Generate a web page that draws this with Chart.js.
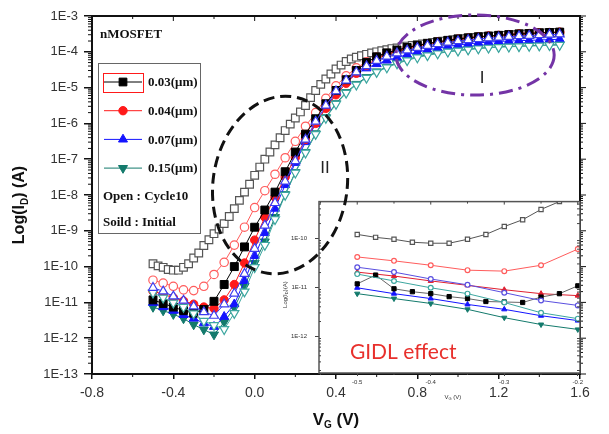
<!DOCTYPE html>
<html>
<head>
<meta charset="utf-8">
<script src="https://cdn.jsdelivr.net/npm/chart.js@4.4.0/dist/chart.umd.min.js"></script>
<style>
html, body { margin:0; padding:0; background:#fff; }
#wrap { position:relative; width:609px; height:434px; }
#wrap canvas { position:absolute; }
</style>
</head>
<body>
<div id="wrap">
  <canvas id="main" width="609" height="434" style="left:0;top:0"></canvas>
  <canvas id="inset" width="330" height="225" style="left:270px;top:190px"></canvas>
  <canvas id="over" width="609" height="434" style="left:0;top:0"></canvas>
</div>
<script>
// gate voltage (V), 0.05 V step
var volts = [-0.5,-0.45,-0.4,-0.35,-0.3,-0.25,-0.2,-0.15,-0.1,-0.05,
  0,0.05,0.1,0.15,0.2,0.25,0.3,0.35,0.4,0.45,
  0.5,0.55,0.6,0.65,0.7,0.75,0.8,0.85,0.9,0.95,
  1,1.05,1.1,1.15,1.2,1.25,1.3,1.35,1.4,1.45,
  1.5];
// 0.025 V step (0.03um cycle10 sweep)
var voltsFine = [-0.5,-0.475,-0.45,-0.425,-0.4,-0.375,-0.35,-0.325,-0.3,-0.275,
  -0.25,-0.225,-0.2,-0.175,-0.15,-0.125,-0.1,-0.075,-0.05,-0.025,
  0,0.025,0.05,0.075,0.1,0.125,0.15,0.175,0.2,0.225,
  0.25,0.275,0.3,0.325,0.35,0.375,0.4,0.425,0.45,0.475,
  0.5,0.525,0.55,0.575,0.6,0.625,0.65,0.675,0.7,0.725,
  0.75,0.775,0.8,0.825,0.85,0.875,0.9,0.925,0.95,0.975,
  1,1.025,1.05,1.075,1.1,1.125,1.15,1.175,1.2,1.225,
  1.25,1.275,1.3,1.325,1.35,1.375,1.4,1.425,1.45,1.475,
  1.5];

// log10(Id) values, solid = initial, open = cycle10
var w003Initial = [-10.93,-11.03,-11.13,-11.23,-11.3,-11.2,-10.97,-10.5,-10.0,-9.45,
  -8.9,-8.42,-7.92,-7.35,-6.8,-6.3,-5.87,-5.45,-5.08,-4.78,
  -4.52,-4.3,-4.14,-4.03,-3.95,-3.88,-3.82,-3.77,-3.72,-3.68,
  -3.64,-3.61,-3.58,-3.56,-3.54,-3.52,-3.5,-3.49,-3.47,-3.46,
  -3.45];
var w003Cycle = [-9.92,-9.98,-10.02,-10.08,-10.1,-10.1,-10.02,-9.92,-9.76,-9.62,
  -9.41,-9.25,-9.08,-8.95,-8.8,-8.6,-8.38,-8.15,-7.92,-7.7,
  -7.45,-7.22,-7.0,-6.8,-6.6,-6.4,-6.2,-6.02,-5.85,-5.68,
  -5.5,-5.28,-5.08,-4.91,-4.76,-4.62,-4.48,-4.37,-4.27,-4.2,
  -4.15,-4.11,-4.07,-4.03,-4.0,-3.97,-3.94,-3.91,-3.89,-3.86,
  -3.84,-3.82,-3.8,-3.78,-3.76,-3.74,-3.72,-3.7,-3.68,-3.66,
  -3.65,-3.63,-3.62,-3.6,-3.59,-3.58,-3.57,-3.56,-3.55,-3.54,
  -3.53,-3.52,-3.51,-3.5,-3.5,-3.49,-3.48,-3.47,-3.47,-3.46,
  -3.46];
var w004Initial = [-10.69,-10.77,-10.87,-10.96,-11.05,-11.13,-11.17,-10.93,-10.5,-9.9,
  -9.26,-8.62,-8.06,-7.5,-6.95,-6.45,-6.0,-5.58,-5.2,-4.88,
  -4.6,-4.38,-4.2,-4.07,-3.98,-3.9,-3.84,-3.78,-3.73,-3.69,
  -3.65,-3.62,-3.59,-3.56,-3.54,-3.52,-3.5,-3.49,-3.47,-3.46,
  -3.45];
var w004Cycle = [-10.38,-10.46,-10.55,-10.65,-10.67,-10.55,-10.22,-9.88,-9.4,-8.9,
  -8.35,-7.88,-7.42,-6.96,-6.5,-6.08,-5.7,-5.3,-4.95,-4.67,
  -4.45,-4.28,-4.15,-4.05,-3.97,-3.9,-3.84,-3.78,-3.73,-3.69,
  -3.65,-3.62,-3.59,-3.57,-3.55,-3.53,-3.51,-3.5,-3.48,-3.47,
  -3.46];
var w007Initial = [-11.01,-11.13,-11.23,-11.35,-11.45,-11.58,-11.68,-11.4,-11.05,-10.4,
  -9.7,-9.06,-8.38,-7.72,-7.1,-6.52,-6.02,-5.55,-5.15,-4.84,
  -4.62,-4.46,-4.34,-4.24,-4.16,-4.08,-4.01,-3.95,-3.9,-3.85,
  -3.81,-3.78,-3.75,-3.73,-3.71,-3.7,-3.69,-3.68,-3.67,-3.66,
  -3.65];
var w007Cycle = [-10.59,-10.69,-10.83,-10.95,-11.11,-11.27,-11.37,-11.05,-10.75,-10.2,
  -9.5,-8.85,-8.22,-7.62,-7.05,-6.45,-5.95,-5.5,-5.1,-4.8,
  -4.57,-4.4,-4.25,-4.13,-4.04,-3.96,-3.89,-3.83,-3.78,-3.74,
  -3.7,-3.67,-3.64,-3.62,-3.6,-3.58,-3.56,-3.55,-3.53,-3.52,
  -3.51];
var w015Initial = [-11.13,-11.23,-11.33,-11.45,-11.62,-11.76,-11.9,-11.55,-11.15,-10.55,
  -9.9,-9.3,-8.62,-7.98,-7.36,-6.8,-6.28,-5.83,-5.44,-5.13,
  -4.9,-4.71,-4.55,-4.42,-4.31,-4.22,-4.14,-4.08,-4.03,-3.99,
  -3.96,-3.93,-3.9,-3.88,-3.86,-3.85,-3.84,-3.83,-3.82,-3.81,
  -3.8];
var w015Cycle = [-10.73,-10.87,-11.01,-11.13,-11.31,-11.52,-11.64,-11.75,-11.3,-10.7,
  -10.02,-9.4,-8.68,-8.0,-7.38,-6.82,-6.3,-5.85,-5.46,-5.15,
  -4.92,-4.73,-4.57,-4.44,-4.33,-4.24,-4.16,-4.1,-4.05,-4.0,
  -3.97,-3.94,-3.91,-3.89,-3.87,-3.86,-3.85,-3.84,-3.83,-3.82,
  -3.81];

// inset (GIDL region)
var insetVolts = [-0.5,-0.45,-0.4,-0.35,-0.3,-0.25,-0.2];
var insetVoltsFine = [-0.5,-0.475,-0.45,-0.425,-0.4,-0.375,-0.35,-0.325,-0.3,-0.275,-0.25,-0.225,-0.2];
var in003Cycle = [-9.92,-9.98,-10.02,-10.08,-10.1,-10.1,-10.02,-9.92,-9.76,-9.62,-9.41,-9.25,-9.05];
var in003Initial = [-10.93,-10.75,-11.03,-11.09,-11.13,-11.19,-11.23,-11.29,-11.3,-11.31,-11.2,-11.13,-10.97];
var in004Cycle = [-10.38,-10.46,-10.55,-10.65,-10.67,-10.55,-10.22];
var in004Initial = [-10.69,-10.77,-10.87,-10.96,-11.05,-11.13,-11.17];
var in007Cycle = [-10.59,-10.69,-10.83,-10.95,-11.11,-11.27,-11.37];
var in007Initial = [-11.01,-11.13,-11.23,-11.35,-11.45,-11.58,-11.68];
var in015Cycle = [-10.73,-10.87,-11.01,-11.13,-11.31,-11.52,-11.64];
var in015Initial = [-11.13,-11.23,-11.33,-11.45,-11.62,-11.76,-11.86];

// ticks
var xTickVals = [-0.8,-0.4,0,0.4,0.8,1.2,1.6];
var xTickLabels = ['-0.8','-0.4','0.0','0.4','0.8','1.2','1.6'];
var yTickVals = [-13,-12,-11,-10,-9,-8,-7,-6,-5,-4,-3];
var yTickLabels = ['1E-13','1E-12','1E-11','1E-10','1E-9','1E-8','1E-7','1E-6','1E-5','1E-4','1E-3'];
var inXTickVals = [-0.5,-0.4,-0.3,-0.2];
var inXTickLabels = ['-0.5','-0.4','-0.3','-0.2'];
var inYTickVals = [-12,-11,-10];
var inYTickLabels = ['1E-12','1E-11','1E-10'];

var legendLabels = ['0.03(\u03bcm)','0.04(\u03bcm)','0.07(\u03bcm)','0.15(\u03bcm)'];
var legendNotes = ['Open : Cycle10','Soild : Initial'];

var BLACK = '#000000', BLACK_O = '#555555';
var RED = '#ff1a1a', RED_O = '#ff5c5c';
var BLUE = '#1414ff', BLUE_O = '#3c3cf0';
var TEAL = '#137a6c', TEAL_O = '#3da7a0';

Chart.defaults.font.family = '"Liberation Sans", Arial, sans-serif';

function pts(xs, ys) {
  return xs.map(function(v, i){ return {x: v, y: ys[i]}; });
}

function series(xs, ys, color, style, open, rot, r, lineColor, bw) {
  return {
    data: pts(xs, ys),
    borderColor: lineColor || color,
    borderWidth: bw || 1,
    pointStyle: style,
    pointRotation: rot || 0,
    pointRadius: r,
    pointBorderColor: color,
    pointBackgroundColor: open ? '#ffffff' : color,
    pointBorderWidth: open ? 1.2 : 1,
    fill: false
  };
}

// draw a marker by hand for the legend
function marker(ctx, style, x, y, r, color, fillColor, rot) {
  ctx.save();
  ctx.fillStyle = fillColor; ctx.strokeStyle = color; ctx.lineWidth = 1;
  ctx.translate(x, y);
  if (rot) ctx.rotate(rot * Math.PI / 180);
  ctx.beginPath();
  if (style === 'rect') {
    var s = r * Math.SQRT1_2;
    ctx.rect(-s, -s, 2 * s, 2 * s);
  } else if (style === 'circle') {
    ctx.arc(0, 0, r, 0, Math.PI * 2);
  } else {
    ctx.moveTo(0, -r);
    ctx.lineTo(r * Math.sin(Math.PI * 2 / 3), -r * Math.cos(Math.PI * 2 / 3));
    ctx.lineTo(r * Math.sin(Math.PI * 4 / 3), -r * Math.cos(Math.PI * 4 / 3));
    ctx.closePath();
  }
  ctx.fill(); ctx.stroke();
  ctx.restore();
}

// text with a subscript part; parts = [[text, size, dy], ...]
function subText(ctx, parts, cx, cy, bold) {
  var w = 0, i;
  for (i = 0; i < parts.length; i++) {
    ctx.font = (bold ? 'bold ' : '') + parts[i][1] + 'px "Liberation Sans", Arial, sans-serif';
    parts[i].w = ctx.measureText(parts[i][0]).width;
    w += parts[i].w;
  }
  var x = cx - w / 2;
  ctx.textBaseline = 'middle'; ctx.textAlign = 'left';
  for (i = 0; i < parts.length; i++) {
    ctx.font = (bold ? 'bold ' : '') + parts[i][1] + 'px "Liberation Sans", Arial, sans-serif';
    ctx.fillText(parts[i][0], x, cy + parts[i][2]);
    x += parts[i].w;
  }
}

var mainDecor = {
  id: 'mainDecor',
  beforeDraw: function(chart) {
    var ctx = chart.ctx;
    ctx.save(); ctx.fillStyle = '#fff'; ctx.fillRect(0, 0, chart.width, chart.height); ctx.restore();
  },
  afterDraw: function(chart) {
    var ctx = chart.ctx, a = chart.chartArea, x = chart.scales.x, y = chart.scales.y;
    ctx.save();
    ctx.strokeStyle = '#111'; ctx.lineWidth = 2;
    ctx.strokeRect(a.left, a.top, a.right - a.left, a.bottom - a.top);

    // log minor ticks on left / right
    ctx.lineWidth = 1;
    ctx.beginPath();
    for (var d = -13; d < -3; d++) {
      for (var k = 2; k <= 9; k++) {
        var py = y.getPixelForValue(d + Math.log10(k));
        ctx.moveTo(a.left, py); ctx.lineTo(a.left - 4, py);
        ctx.moveTo(a.right, py); ctx.lineTo(a.right + 3, py);
      }
    }
    yTickVals.forEach(function(v){
      var py = y.getPixelForValue(v);
      ctx.moveTo(a.right, py); ctx.lineTo(a.right + 6, py);
    });
    // top ticks inward, bottom minor ticks
    xTickVals.forEach(function(v){
      var px = x.getPixelForValue(v);
      ctx.moveTo(px, a.top); ctx.lineTo(px, a.top + 5);
      if (v < 1.6) {
        var pm = x.getPixelForValue(v + 0.2);
        ctx.moveTo(pm, a.top); ctx.lineTo(pm, a.top + 3);
        ctx.moveTo(pm, a.bottom); ctx.lineTo(pm, a.bottom + 3);
      }
    });
    ctx.stroke();

    // nMOSFET label
    ctx.fillStyle = '#111';
    ctx.font = 'bold 13px "Liberation Serif", "Times New Roman", serif';
    ctx.textBaseline = 'middle'; ctx.textAlign = 'left';
    ctx.fillText('nMOSFET', a.left + 8, a.top + 19);

    // legend box
    var lx = a.left + 6, ly = a.top + 47, lw = 102, lh = 170;
    ctx.strokeStyle = '#666'; ctx.lineWidth = 1;
    ctx.strokeRect(lx + 0.5, ly + 0.5, lw, lh);
    var cols = [BLACK, RED, BLUE, TEAL];
    var styles = ['rect', 'circle', 'triangle', 'triangle'];
    var rots = [0, 0, 0, 180];
    var radii = [5.5, 4.2, 5.2, 5.2];
    for (var i = 0; i < 4; i++) {
      var ey = ly + 19 + i * 28.7;
      ctx.strokeStyle = cols[i]; ctx.lineWidth = 1;
      ctx.beginPath(); ctx.moveTo(lx + 6, ey); ctx.lineTo(lx + 44, ey); ctx.stroke();
      marker(ctx, styles[i], lx + 25, ey, radii[i], cols[i], cols[i], rots[i]);
      ctx.fillStyle = '#111';
      ctx.font = 'bold 13px "Liberation Serif", "Times New Roman", serif';
      ctx.fillText(legendLabels[i], lx + 50, ey + 1);
    }
    ctx.strokeStyle = RED; ctx.lineWidth = 1;
    ctx.strokeRect(lx + 5.5, ly + 10.5, 40, 19);
    ctx.fillStyle = '#111';
    ctx.fillText(legendNotes[0], lx + 5, ly + 134);
    ctx.fillText(legendNotes[1], lx + 5, ly + 160);

    // axis titles
    ctx.fillStyle = '#111';
    subText(ctx, [['V', 17, 0], ['G', 10, 5], [' (V)', 17, 0]], (a.left + a.right) / 2, 420, true);
    ctx.save();
    ctx.translate(20, 205); ctx.rotate(-Math.PI / 2);
    subText(ctx, [['Log(I', 16, 0], ['D', 10, 5], [') (A)', 16, 0]], 0, 0, true);
    ctx.restore();
    ctx.restore();
  }
};

// first in list = drawn on top
var mainSets = [
  series(volts, w007Cycle, BLUE_O, 'triangle', true, 0, 5.2),
  series(volts, w015Cycle, TEAL_O, 'triangle', true, 180, 5.2),
  series(volts, w003Initial, BLACK, 'rect', false, 0, 5.6),
  series(volts, w004Initial, RED, 'circle', false, 0, 4.2),
  series(volts, w007Initial, BLUE, 'triangle', false, 0, 5.2),
  series(volts, w015Initial, TEAL, 'triangle', false, 180, 5.2),
  series(volts, w004Cycle, RED_O, 'circle', true, 0, 4.2),
  series(voltsFine, w003Cycle, BLACK_O, 'rect', true, 0, 5.4, '#777')
];

var mainChart = new Chart(document.getElementById('main'), {
  type: 'line',
  data: { datasets: mainSets },
  plugins: [mainDecor],
  options: {
    responsive: false, animation: false, events: [],
    layout: { padding: { top: 16, right: 29, left: 0, bottom: 0 } },
    elements: { line: { tension: 0 } },
    plugins: { legend: { display: false }, tooltip: { enabled: false } },
    scales: {
      x: {
        type: 'linear', min: -0.8, max: 1.6,
        afterBuildTicks: function(s){ s.ticks = xTickVals.map(function(v){ return {value: v}; }); },
        afterFit: function(s){ s.height = 60; },
        ticks: { callback: function(v, i){ return xTickLabels[i]; }, autoSkip: false, maxRotation: 0,
                 font: { size: 14 }, color: '#333', padding: 6 },
        grid: { drawOnChartArea: false, drawTicks: true, tickLength: 5, color: '#111', lineWidth: 1.5 },
        border: { display: true, color: '#111', width: 2 }
      },
      y: {
        type: 'linear', min: -13, max: -3,
        afterBuildTicks: function(s){ s.ticks = yTickVals.map(function(v){ return {value: v}; }); },
        afterFit: function(s){ s.width = 92; },
        ticks: { callback: function(v, i){ return yTickLabels[i]; }, autoSkip: false,
                 font: { size: 13 }, color: '#333', padding: 6 },
        grid: { drawOnChartArea: false, drawTicks: true, tickLength: 8, color: '#111', lineWidth: 1.5 },
        border: { display: true, color: '#111', width: 2 }
      }
    }
  }
});

// ---- inset ----
var insetDecor = {
  id: 'insetDecor',
  beforeDatasetsDraw: function(chart) {
    var ctx = chart.ctx, a = chart.chartArea;
    ctx.save(); ctx.fillStyle = '#fff';
    ctx.fillRect(a.left, a.top, a.right - a.left, a.bottom - a.top);
    ctx.restore();
  },
  afterDraw: function(chart) {
    var ctx = chart.ctx, a = chart.chartArea, x = chart.scales.x, y = chart.scales.y;
    ctx.save();
    ctx.strokeStyle = '#555'; ctx.lineWidth = 1.5;
    ctx.strokeRect(a.left, a.top, a.right - a.left, a.bottom - a.top);
    ctx.lineWidth = 1; ctx.strokeStyle = '#444';
    ctx.beginPath();
    for (var d = -13; d < -9; d++) {
      for (var k = 2; k <= 9; k++) {
        var v = d + Math.log10(k);
        if (v < y.min || v > y.max) continue;
        var py = y.getPixelForValue(v);
        ctx.moveTo(a.left, py); ctx.lineTo(a.left + 2, py);
        ctx.moveTo(a.right, py); ctx.lineTo(a.right - 3, py);
      }
    }
    inXTickVals.forEach(function(v){
      var px = x.getPixelForValue(v);
      ctx.moveTo(px, a.top); ctx.lineTo(px, a.top + 3);
      var pm = x.getPixelForValue(v - 0.05);
      ctx.moveTo(pm, a.top); ctx.lineTo(pm, a.top + 2);
      ctx.moveTo(pm, a.bottom); ctx.lineTo(pm, a.bottom + 2);
    });
    ctx.stroke();

    // tiny axis titles
    ctx.fillStyle = '#333';
    subText(ctx, [['V', 6, 0], ['G', 4, 2], [' (V)', 6, 0]], x.getPixelForValue(-0.37), 207, false);
    ctx.save();
    ctx.translate(15, y.getPixelForValue(-11.15)); ctx.rotate(-Math.PI / 2);
    subText(ctx, [['Log(I', 6, 0], ['D', 4, 2], [')(A)', 6, 0]], 0, 0, false);
    ctx.restore();

    // GIDL effect
    ctx.fillStyle = '#e8302c';
    ctx.font = '21px Lato, "Open Sans", sans-serif';
    ctx.textAlign = 'left'; ctx.textBaseline = 'middle';
    ctx.fillText('GIDL effect', x.getPixelForValue(-0.51), y.getPixelForValue(-12.32));
    ctx.restore();
  }
};

var insetSets = [
  series(insetVoltsFine, in003Cycle, '#555', 'rect', true, 0, 3, '#555'),
  series(insetVolts, in004Cycle, RED_O, 'circle', true, 0, 2.4),
  series(insetVolts, in007Cycle, '#5a4fe0', 'circle', true, 0, 2.4),
  series(insetVolts, in015Cycle, TEAL_O, 'circle', true, 0, 2.4),
  series(insetVoltsFine, in003Initial, BLACK, 'rect', false, 0, 3, '#666'),
  series(insetVolts, in004Initial, '#e02030', 'triangle', false, 0, 3),
  series(insetVolts, in007Initial, BLUE, 'triangle', false, 0, 3),
  series(insetVolts, in015Initial, TEAL, 'triangle', false, 180, 3)
];

var insetChart = new Chart(document.getElementById('inset'), {
  type: 'line',
  data: { datasets: insetSets },
  plugins: [insetDecor],
  options: {
    responsive: false, animation: false, events: [],
    layout: { padding: { top: 10, right: 20, left: 0, bottom: 0 } },
    elements: { line: { tension: 0 } },
    plugins: { legend: { display: false }, tooltip: { enabled: false } },
    scales: {
      x: {
        type: 'linear', min: -0.552, max: -0.197,
        afterBuildTicks: function(s){ s.ticks = inXTickVals.map(function(v){ return {value: v}; }); },
        afterFit: function(s){ s.height = 42; },
        ticks: { callback: function(v, i){ return inXTickLabels[i]; }, autoSkip: false, maxRotation: 0,
                 font: { size: 6 }, color: '#333', padding: 3 },
        grid: { drawOnChartArea: false, drawTicks: true, tickLength: 3, color: '#444', lineWidth: 1 },
        border: { display: false }
      },
      y: {
        type: 'linear', min: -12.75, max: -9.25,
        afterBuildTicks: function(s){ s.ticks = inYTickVals.map(function(v){ return {value: v}; }); },
        afterFit: function(s){ s.width = 49; },
        ticks: { callback: function(v, i){ return inYTickLabels[i]; }, autoSkip: false,
                 font: { size: 6 }, color: '#333', padding: 8 },
        grid: { drawOnChartArea: false, drawTicks: true, tickLength: 4, color: '#444', lineWidth: 1 },
        border: { display: false }
      }
    }
  }
});

// ---- annotations on top (ellipses I and II) ----
(function(){
  var c = document.getElementById('over'), ctx = c.getContext('2d');
  var x = mainChart.scales.x, y = mainChart.scales.y;
  function ell(cv, cl, rv, rl, rot, color, dash) {
    var cx = x.getPixelForValue(cv), cy = y.getPixelForValue(cl);
    var rx = x.getPixelForValue(cv + rv) - cx, ry = y.getPixelForValue(cl - rl) - cy;
    ctx.save();
    ctx.strokeStyle = color; ctx.lineWidth = 3; ctx.setLineDash(dash);
    ctx.beginPath(); ctx.ellipse(cx, cy, rx, ry, rot, 0, Math.PI * 2); ctx.stroke();
    ctx.restore();
  }
  ell(0.125, -7.72, 0.33, 2.49, 0.14, '#111', [11, 6]);
  ell(1.084, -4.09, 0.389, 1.12, 0, '#7434a6', [14, 6, 3, 6]);
  ctx.fillStyle = '#222';
  ctx.font = '17px "Liberation Sans", Arial, sans-serif';
  ctx.textAlign = 'center'; ctx.textBaseline = 'middle';
  ctx.fillText('II', x.getPixelForValue(0.346), y.getPixelForValue(-7.25));
  ctx.fillText('I', x.getPixelForValue(1.118), y.getPixelForValue(-4.73));
})();
</script>
</body>
</html>
